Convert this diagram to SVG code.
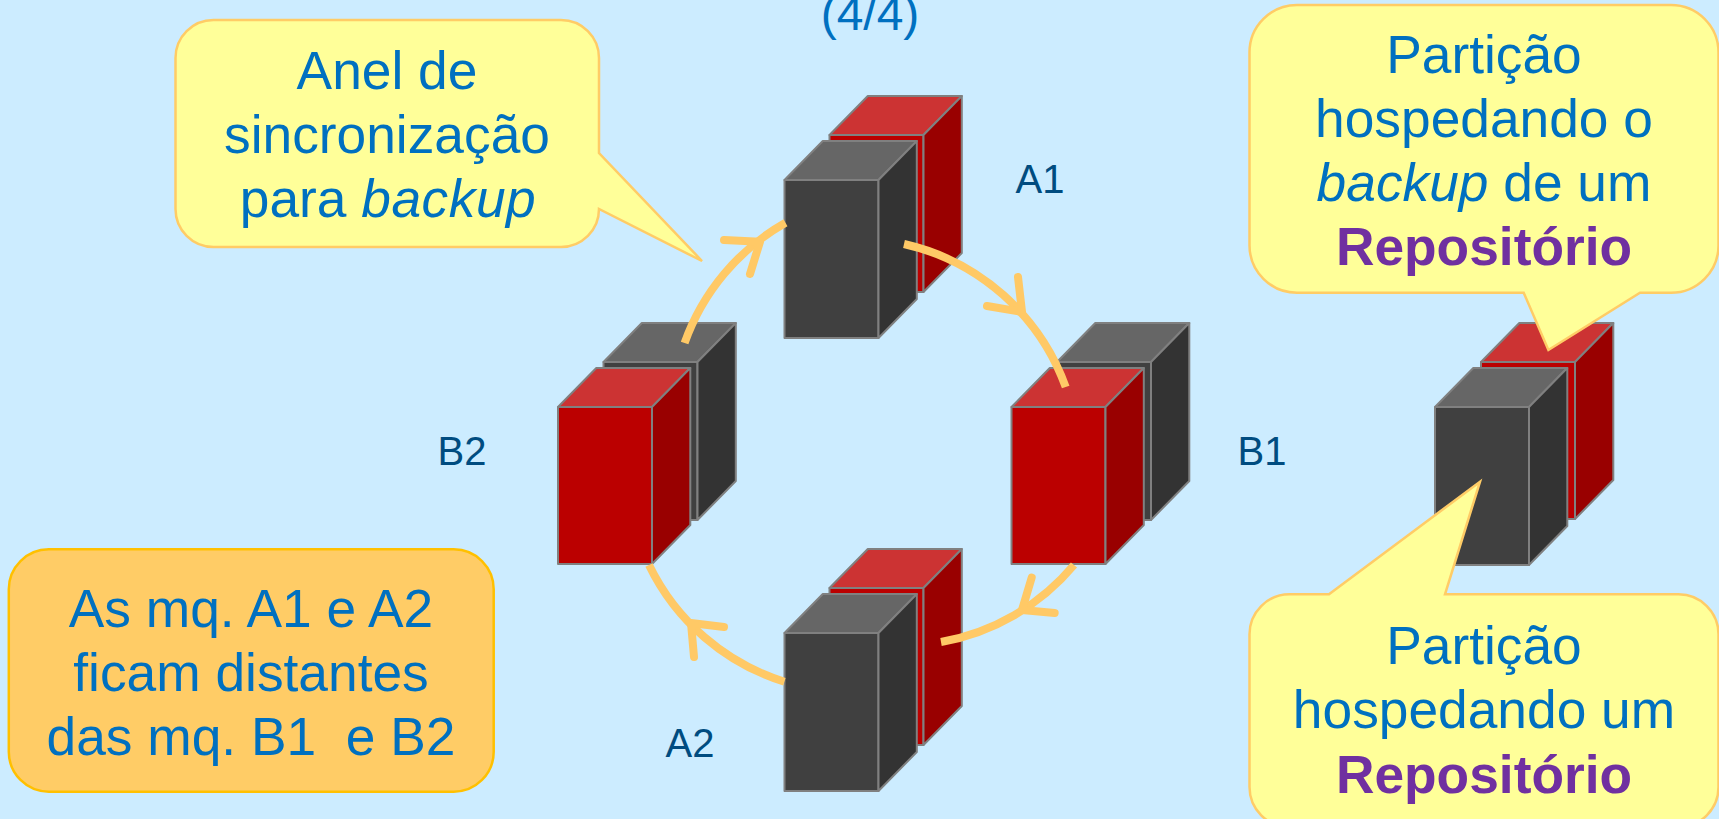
<svg xmlns="http://www.w3.org/2000/svg" width="1719" height="819" viewBox="0 0 1719 819">
<style>
text{font-family:"Liberation Sans",Arial,sans-serif;fill:#0070C0;font-size:53.3px;text-anchor:middle}
.lbl{font-size:40px;fill:#004C80}
.rep{font-weight:bold;fill:#7030A0}
.call{fill:#FFFF99;stroke:#FFCC66;stroke-width:2.5;stroke-linejoin:miter}
.note{fill:#FFCC66;stroke:#FFC000;stroke-width:2.5}
.arc{fill:none;stroke:#FFC966;stroke-width:8}
.barb{fill:none;stroke:#FFC966;stroke-width:8;stroke-linecap:round;stroke-linejoin:round}
.edge{stroke:#808080;stroke-width:2;stroke-linejoin:round}
.rf{fill:#BB0000}.rt{fill:#CC3333}.rs{fill:#990000}
.gf{fill:#404040}.gt{fill:#666666}.gs{fill:#333333}
</style>
<defs>
<g id="red"><rect class="rf edge" x="0" y="0" width="94" height="157"/><path class="rt edge" d="M0 0L38.300-39H132.300L94 0Z"/><path class="rs edge" d="M94 0L132.300-39V118L94 157Z"/></g>
<g id="gray"><rect class="gf edge" x="0" y="0" width="94" height="158"/><path class="gt edge" d="M0 0L38.300-39H132.300L94 0Z"/><path class="gs edge" d="M94 0L132.300-39V119L94 158Z"/></g>
</defs>
<rect id="background" width="1719" height="819" fill="#CCECFF"/>
<text id="page-number" x="870" y="30" style="font-size:48px">(4/4)</text>

<g id="node-A1"><use href="#red" x="829.5" y="135"/><use href="#gray" x="784.5" y="180"/><text class="lbl" x="1040" y="193">A1</text></g>
<g id="node-B1"><use href="#gray" x="1057" y="362"/><use href="#red" x="1011.5" y="407"/><text class="lbl" x="1262" y="465">B1</text></g>
<g id="node-B2"><use href="#gray" x="603.5" y="362"/><use href="#red" x="558" y="407"/><text class="lbl" x="462" y="465">B2</text></g>
<g id="node-A2"><use href="#red" x="829.5" y="588"/><use href="#gray" x="784.5" y="633"/><text class="lbl" x="690" y="757">A2</text></g>
<g id="node-partition"><use href="#red" x="1481" y="362"/><use href="#gray" x="1435" y="407"/></g>

<g id="connectors">
<path class="arc" d="M684.6 343A225 225 0 0 1 785.5 222.7"/>
<path class="barb" d="M724 240L760 241.7L750 274"/>
<path class="arc" d="M904 244A225 225 0 0 1 1065.7 387"/>
<path class="barb" d="M1018 277L1022 312L987 306"/>
<path class="arc" d="M1074 565A225 225 0 0 1 941 642"/>
<path class="barb" d="M1031.7 577.7L1022 610L1054.7 613"/>
<path class="arc" d="M784.4 681.7A225 225 0 0 1 649 565"/>
<path class="barb" d="M724 627L691 623L694 657"/>
</g>

<g id="callout-ring">
<path class="call" d="M213.500 20H561A38 38 0 0 1 599 58V153L702 261L599 209A38 38 0 0 1 561 247H213.500A38 38 0 0 1 175.500 209V58A38 38 0 0 1 213.500 20Z"/>
<text x="387" y="89.300">Anel de</text>
<text x="387" y="153.300">sincronização</text>
<text x="388" y="217.300">para <tspan font-style="italic" letter-spacing="0.500">backup</tspan></text>
</g>
<g id="callout-backup">
<path class="call" d="M1297 5H1671A47.500 47.500 0 0 1 1718.500 52.500V245.200A47.500 47.500 0 0 1 1671 292.700H1640L1548.400 350L1523.700 292.700H1297A47.500 47.500 0 0 1 1249.500 245.200V52.500A47.500 47.500 0 0 1 1297 5Z"/>
<text x="1484" y="72.700">Partição</text>
<text x="1484" y="136.700">hospedando o</text>
<text x="1484" y="200.700"><tspan font-style="italic">backup</tspan> de um</text>
<text class="rep" x="1484" y="265">Repositório</text>
</g>
<g id="callout-repo">
<path class="call" d="M1289.500 594.300H1329L1480 481.700L1445 594.300H1678.500A40 40 0 0 1 1718.500 634.300V787A40 40 0 0 1 1678.500 827H1289.500A40 40 0 0 1 1249.500 787V634.300A40 40 0 0 1 1289.500 594.300Z"/>
<text x="1484" y="664.300">Partição</text>
<text x="1484" y="728.300">hospedando um</text>
<text class="rep" x="1484" y="792.700">Repositório</text>
</g>
<g id="note">
<rect class="note" x="8.800" y="549.300" width="484.900" height="242.400" rx="40" ry="40"/>
<text x="251" y="626.700">As mq. A1 e A2</text>
<text x="251" y="690.700">ficam distantes</text>
<text x="251" y="755">das mq. B1 &#160;e B2</text>
</g>
</svg>
